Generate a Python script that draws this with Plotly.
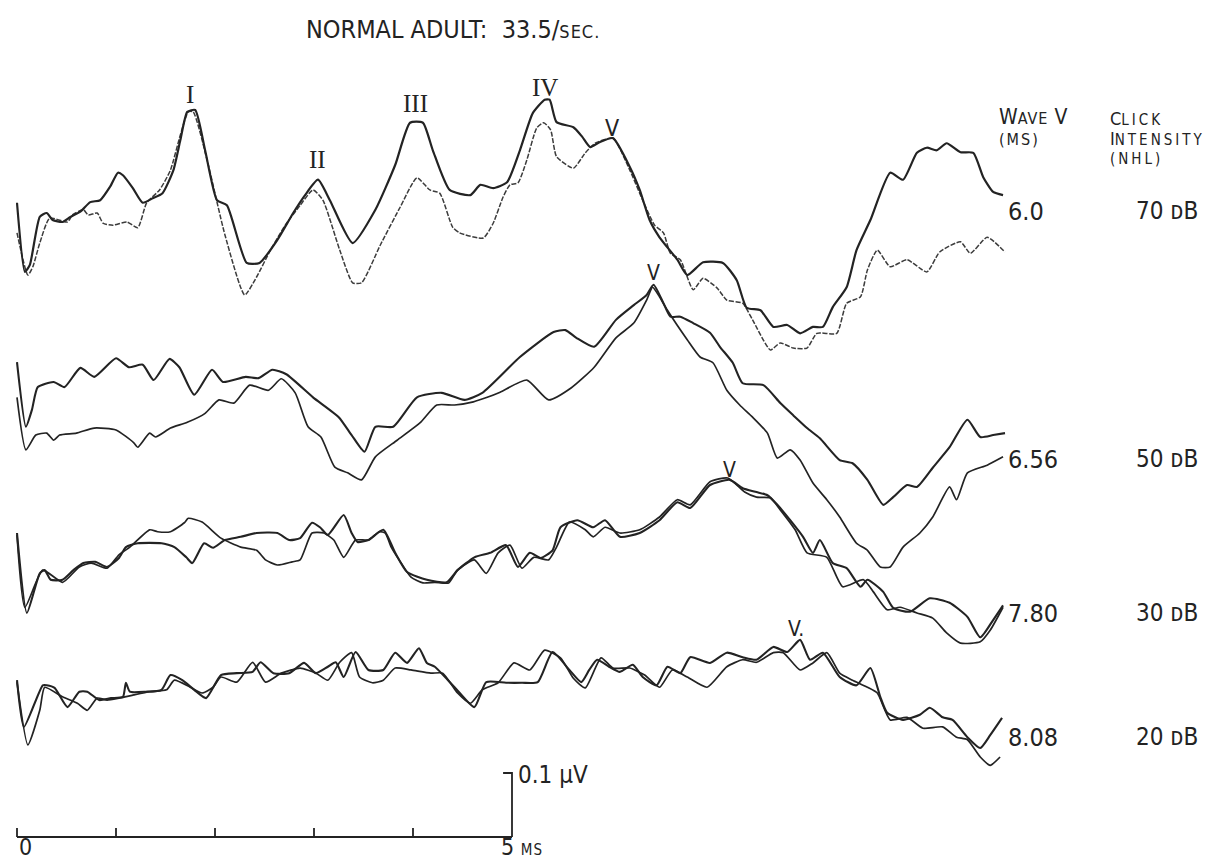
import plotly.graph_objects as go

# ---------------- data (time in ms, amplitude in nV; 100 nV = 0.1 uV) ----------------
W70_A = [(0.00,-9),(0.08,-117),(0.13,-106),(0.23,-31),(0.30,-25),(0.36,-36),(0.46,-39),(0.54,-31),(0.64,-23),(0.74,-8),(0.84,-5),(0.94,16),(1.02,38),(1.07,34),(1.17,14),(1.27,-9),(1.37,-2),(1.47,6),(1.58,42),(1.65,89),(1.72,133),(1.80,136),(1.90,73),(2.02,-5),(2.12,-13),(2.32,-103),(2.45,-103),(2.63,-67),(2.79,-25),(2.91,3),(3.04,27),(3.16,-5),(3.39,-72),(3.62,-20),(3.82,50),(3.97,116),(4.10,116),(4.20,73),(4.37,11),(4.58,3),(4.68,19),(4.81,14),(4.95,23),(5.08,73),(5.21,131),(5.33,152),(5.38,152),(5.45,117),(5.62,109),(5.71,94),(5.79,78),(5.89,86),(6.02,92),(6.19,47),(6.29,11),(6.39,-36),(6.49,-63),(6.67,-98),(6.77,-122),(6.93,-102),(7.13,-103),(7.27,-130),(7.37,-173),(7.51,-177),(7.64,-203),(7.78,-200),(7.91,-213),(8.04,-203),(8.14,-203),(8.24,-172),(8.38,-141),(8.48,-83),(8.62,-36),(8.82,38),(8.95,27),(9.09,69),(9.19,77),(9.29,73),(9.39,84),(9.53,70),(9.66,69),(9.76,31),(9.86,8),(9.96,3)]
W70_B = [(0.00,-56),(0.11,-122),(0.16,-109),(0.23,-72),(0.33,-33),(0.51,-39),(0.56,-28),(0.67,-20),(0.72,-28),(0.81,-25),(0.87,-41),(0.97,-44),(1.11,-39),(1.22,-48),(1.31,-9),(1.44,11),(1.55,42),(1.65,97),(1.73,133),(1.78,133),(1.92,58),(2.10,-59),(2.30,-153),(2.42,-125),(2.56,-83),(2.71,-44),(2.86,-13),(2.99,11),(3.09,-5),(3.26,-83),(3.39,-134),(3.48,-134),(3.67,-75),(3.87,-16),(4.04,30),(4.17,11),(4.27,6),(4.40,-47),(4.47,-56),(4.71,-64),(4.81,-41),(4.91,0),(4.98,19),(5.06,22),(5.15,58),(5.25,108),(5.32,116),(5.39,105),(5.45,63),(5.62,45),(5.74,69),(5.84,84),(6.02,92),(6.19,42),(6.32,-5),(6.44,-44),(6.53,-56),(6.60,-88),(6.70,-98),(6.83,-145),(6.93,-127),(7.07,-142),(7.17,-161),(7.33,-166),(7.43,-192),(7.61,-239),(7.71,-228),(7.84,-236),(7.98,-236),(8.08,-213),(8.28,-213),(8.38,-166),(8.52,-156),(8.59,-114),(8.69,-83),(8.82,-109),(8.99,-98),(9.19,-117),(9.32,-86),(9.53,-70),(9.63,-88),(9.80,-63),(9.98,-86)]
W50_A = [(0.00,17),(0.09,-84),(0.15,-58),(0.21,-22),(0.37,-14),(0.48,-22),(0.64,8),(0.78,-6),(1.00,23),(1.13,9),(1.27,13),(1.38,-11),(1.54,22),(1.64,9),(1.79,-34),(1.97,5),(2.08,-14),(2.31,-6),(2.44,-8),(2.58,5),(2.72,-2),(2.99,-38),(3.25,-69),(3.38,-97),(3.51,-123),(3.62,-84),(3.80,-84),(4.04,-38),(4.29,-31),(4.52,-42),(4.70,-31),(5.08,25),(5.42,64),(5.54,67),(5.65,55),(5.83,41),(6.05,83),(6.23,106),(6.36,122),(6.43,138),(6.53,109),(6.60,88),(6.70,88),(6.83,78),(7.00,63),(7.10,41),(7.23,16),(7.33,-16),(7.54,-19),(7.71,-47),(7.84,-66),(7.98,-86),(8.11,-102),(8.31,-136),(8.44,-141),(8.59,-167),(8.75,-206),(8.85,-194),(8.99,-175),(9.09,-178),(9.25,-148),(9.42,-116),(9.60,-73),(9.73,-100),(9.86,-97),(9.98,-94)]
W50_B = [(0.00,-38),(0.09,-120),(0.19,-97),(0.30,-94),(0.37,-105),(0.43,-97),(0.60,-94),(0.78,-86),(1.00,-89),(1.18,-109),(1.22,-116),(1.34,-94),(1.40,-100),(1.55,-86),(1.72,-77),(1.90,-63),(2.04,-42),(2.19,-47),(2.35,-19),(2.54,-27),(2.67,-9),(2.81,-31),(2.94,-84),(3.07,-100),(3.21,-147),(3.34,-156),(3.48,-167),(3.62,-131),(3.84,-105),(4.07,-78),(4.24,-50),(4.42,-50),(4.61,-45),(4.75,-38),(4.88,-30),(5.15,-11),(5.37,-42),(5.60,-23),(5.83,9),(6.05,55),(6.23,78),(6.36,114),(6.42,134),(6.49,119),(6.57,98),(6.77,52),(6.90,25),(7.03,16),(7.17,-27),(7.30,-50),(7.43,-69),(7.58,-94),(7.68,-133),(7.81,-120),(7.91,-136),(8.04,-172),(8.18,-198),(8.31,-225),(8.48,-266),(8.59,-277),(8.72,-303),(8.82,-303),(8.95,-272),(9.12,-250),(9.25,-225),(9.42,-178),(9.49,-198),(9.60,-156),(9.80,-144),(9.96,-131)]
W30_A = [(0.00,25),(0.10,-100),(0.23,-38),(0.28,-33),(0.34,-48),(0.46,-48),(0.57,-33),(0.67,-22),(0.79,-20),(0.91,-28),(1.03,-14),(1.10,3),(1.22,9),(1.46,9),(1.59,3),(1.71,-13),(1.77,-22),(1.89,9),(1.98,2),(2.10,14),(2.26,19),(2.42,25),(2.63,25),(2.75,14),(2.86,17),(2.98,41),(3.06,34),(3.14,22),(3.30,53),(3.38,25),(3.44,11),(3.55,14),(3.70,30),(3.82,-6),(3.94,-36),(4.14,-48),(4.34,-52),(4.45,-33),(4.62,-13),(4.78,-6),(4.94,6),(5.06,-28),(5.18,-6),(5.29,-14),(5.41,-2),(5.49,34),(5.66,45),(5.82,34),(5.94,45),(6.09,19),(6.29,25),(6.49,45),(6.67,73),(6.80,64),(7.00,100),(7.20,108),(7.33,95),(7.47,89),(7.58,84),(7.68,69),(7.81,45),(7.94,19),(8.04,-6),(8.11,14),(8.24,-22),(8.38,-30),(8.52,-59),(8.59,-48),(8.75,-67),(8.85,-92),(9.02,-98),(9.22,-77),(9.42,-84),(9.60,-106),(9.73,-138),(9.86,-111),(9.96,-88)]
W30_B = [(0.00,22),(0.08,-91),(0.26,-33),(0.46,-52),(0.63,-28),(0.75,-22),(0.91,-30),(1.03,-9),(1.14,3),(1.34,30),(1.42,27),(1.55,27),(1.69,41),(1.73,48),(1.87,42),(2.06,17),(2.26,3),(2.42,-2),(2.51,-17),(2.63,-25),(2.78,-20),(2.86,-17),(2.98,25),(3.10,25),(3.20,14),(3.30,-13),(3.42,14),(3.55,14),(3.66,27),(3.72,25),(3.78,3),(3.86,-17),(3.98,-44),(4.10,-53),(4.22,-52),(4.36,-53),(4.45,-33),(4.62,-17),(4.74,-38),(4.86,-6),(4.98,6),(5.10,-30),(5.22,-13),(5.37,-17),(5.45,3),(5.58,42),(5.74,30),(5.82,19),(5.94,34),(6.09,25),(6.29,30),(6.49,50),(6.67,77),(6.80,69),(7.00,105),(7.18,111),(7.35,89),(7.47,81),(7.61,80),(7.71,61),(7.86,30),(7.98,-6),(8.18,-13),(8.34,-59),(8.55,-48),(8.65,-67),(8.79,-95),(8.92,-91),(9.09,-100),(9.25,-108),(9.39,-131),(9.53,-147),(9.73,-145),(9.83,-127),(9.96,-91)]
W20_A = [(0.00,-5),(0.07,-78),(0.26,-13),(0.30,-13),(0.38,-17),(0.51,-47),(0.63,-23),(0.71,-23),(0.83,-36),(0.95,-33),(1.07,-31),(1.10,-9),(1.14,-23),(1.30,-23),(1.46,-20),(1.55,3),(1.67,-5),(1.79,-20),(1.91,-33),(2.06,3),(2.22,6),(2.38,8),(2.46,23),(2.59,6),(2.75,6),(2.90,22),(3.02,6),(3.14,16),(3.22,23),(3.30,0),(3.42,39),(3.55,11),(3.70,11),(3.82,38),(3.94,22),(4.06,45),(4.14,22),(4.22,16),(4.42,-16),(4.62,-47),(4.74,-8),(4.94,-9),(5.10,-9),(5.26,-8),(5.41,39),(5.58,11),(5.70,-8),(5.78,11),(5.86,27),(5.98,16),(6.09,8),(6.22,19),(6.32,0),(6.46,-13),(6.57,16),(6.70,6),(6.80,31),(7.00,22),(7.17,38),(7.33,31),(7.47,27),(7.64,47),(7.78,39),(7.91,58),(8.01,27),(8.14,38),(8.31,0),(8.48,-13),(8.62,14),(8.72,-31),(8.79,-56),(8.95,-67),(9.12,-59),(9.22,-48),(9.35,-63),(9.45,-67),(9.60,-94),(9.73,-111),(9.83,-91),(9.95,-64)]
W20_B = [(0.00,-8),(0.11,-106),(0.23,-52),(0.28,-16),(0.46,-31),(0.61,-41),(0.71,-52),(0.81,-33),(0.91,-36),(1.03,-33),(1.18,-28),(1.34,-23),(1.51,-20),(1.59,-5),(1.75,-16),(1.87,-25),(1.98,-16),(2.06,0),(2.22,-8),(2.38,23),(2.51,-8),(2.67,6),(2.86,14),(3.02,6),(3.14,-5),(3.26,23),(3.38,38),(3.46,0),(3.59,-9),(3.70,-5),(3.82,14),(3.98,11),(4.18,6),(4.30,6),(4.45,-25),(4.58,-41),(4.70,-20),(4.86,-9),(5.02,22),(5.18,11),(5.33,42),(5.49,30),(5.62,-2),(5.74,-17),(5.90,30),(6.02,14),(6.19,14),(6.34,3),(6.49,-16),(6.62,11),(6.77,0),(6.97,-16),(7.17,16),(7.33,27),(7.47,23),(7.64,38),(7.74,38),(7.91,11),(8.04,22),(8.18,38),(8.31,6),(8.44,-5),(8.59,-16),(8.69,-25),(8.82,-67),(8.99,-63),(9.15,-80),(9.35,-78),(9.49,-94),(9.60,-98),(9.73,-125),(9.83,-138),(9.93,-125)]

INTENSITIES = ["70 ᴅB", "50 ᴅB", "30 ᴅB", "20 ᴅB"]
WAVE_V_LATENCY = ["6.0", "6.56", "7.80", "8.08"]
PEAK_NAMES_70 = ["I", "II", "III", "IV", "V"]
PEAK_MS_70 = [1.75, 3.04, 4.03, 5.33, 6.01]
WAVE_V_MS_LOWER = [6.43, 7.20, 7.87]      # 50, 30, 20 dB wave V marks
SCALE_MS = [0, 1, 2, 3, 4, 5]
SCALE_NV = 100                             # 0.1 uV calibration

# ---------------- layout helpers ----------------
W, H = 1224, 859
X0PX, PXPMS = 17, 99.0          # pixel of t=0, pixels per ms
Y0PX, PXPNV = 837, 0.64         # pixel of amplitude 0 (scale bar), pixels per nV
OFFSETS = [1000, 725, 450, 250]  # vertical stacking of the four records (nV)

def px_x(px):
    return (px - X0PX) / PXPMS

def px_y(py):
    return (Y0PX - py) / PXPNV

INK = "#232323"
FONT = "DejaVu Sans Condensed, DejaVu Sans, sans-serif"
SERIF = "Liberation Serif, DejaVu Serif, serif"

fig = go.Figure()

def add_wave(pairs, off, width, color=INK, dash="solid"):
    fig.add_trace(go.Scatter(
        x=[p[0] for p in pairs], y=[p[1] + off for p in pairs],
        mode="lines", hoverinfo="skip", showlegend=False,
        line=dict(color=color, width=width, dash=dash, shape="spline", smoothing=0.55)))

records = [(W70_A, W70_B), (W50_A, W50_B), (W30_A, W30_B), (W20_A, W20_B)]
for i, (a, b) in enumerate(records):
    if i == 0:
        add_wave(b, OFFSETS[i], 1.5, "#3c3c3c", "5px,1.6px")
        add_wave(a, OFFSETS[i], 2.2)
    else:
        add_wave(b, OFFSETS[i], 1.7)
        add_wave(a, OFFSETS[i], 2.1)

# ---------------- calibration bar ----------------
tick_h = 14
sx, sy = [SCALE_MS[0], SCALE_MS[-1]], [0, 0]
for t in SCALE_MS[:-1]:
    sx += [None, t, t]
    sy += [None, 0, tick_h]
sx += [None, SCALE_MS[-1], SCALE_MS[-1], SCALE_MS[-1] - 0.09]
sy += [None, 0, SCALE_NV, SCALE_NV]
fig.add_trace(go.Scatter(x=sx, y=sy, mode="lines", hoverinfo="skip", showlegend=False,
                         line=dict(color=INK, width=1.8)))

# ---------------- text ----------------
ann = []
def text(px, py, s, size=20, family=FONT, xanchor="left"):
    ann.append(dict(x=px / W, y=1 - py / H, xref="paper", yref="paper", text=s,
                    showarrow=False, xanchor=xanchor, yanchor="middle", align="left",
                    font=dict(family=family, size=size, color=INK)))

def small(s, size=16, ls=0):
    return "<span style='font-size:%dpx;letter-spacing:%dpx'>%s</span>" % (size, ls, s)

def big(s, size=21):
    return "<span style='font-size:%dpx'>%s</span>" % (size, s)

text(304, 29, "NORMAL ADULT:\u00a0\u00a033.5/" + small("SEC.", 18, 1), size=25)

text(997, 127, big("W") + small("AVE", 16, 1) + big(" V") + "<br>" + small("(MS)", 16, 2), size=16)
text(1108, 138, big("C", 18) + small("LICK", 15, 3) + "<br>" + big("I", 18) + small("NTENSITY", 15, 3)
     + "<br>" + small("(NHL)", 15, 3), size=15)

ROW_PY = [211, 459, 613, 737]
for lat, inten, py in zip(WAVE_V_LATENCY, INTENSITIES, ROW_PY):
    text(1006, py, lat, size=25)
    text(1134, py, inten, size=24)

# peak labels (x from latency in ms)
PEAK_PY_70 = [94, 160, 104, 87, 128]
for name, ms, py in zip(PEAK_NAMES_70, PEAK_MS_70, PEAK_PY_70):
    fam = SERIF if name != "V" else FONT
    ann.append(dict(x=ms, y=1 - py / H, xref="x", yref="paper", text=name, showarrow=False,
                    xanchor="center", yanchor="middle",
                    font=dict(family=fam, size=25 if name != "V" else 23, color=INK)))
for ms, py, s in zip(WAVE_V_MS_LOWER, [273, 470, 629], ["V", "V", "V."]):
    ann.append(dict(x=ms, y=1 - py / H, xref="x", yref="paper", text=s, showarrow=False,
                    xanchor="center", yanchor="middle",
                    font=dict(family=FONT, size=21, color=INK)))

# scale labels
text(516, 775, "0.1 µV", size=24)
ann.append(dict(x=SCALE_MS[0] + 0.09, y=1 - 847 / H, xref="x", yref="paper", text="0",
                showarrow=False, xanchor="center", yanchor="middle",
                font=dict(family=FONT, size=23, color=INK)))
ann.append(dict(x=SCALE_MS[-1] - 0.13, y=1 - 847 / H, xref="x", yref="paper",
                text="5 " + small("MS", 15, 1), showarrow=False, xanchor="left", yanchor="middle",
                font=dict(family=FONT, size=23, color=INK)))

fig.update_layout(
    width=W, height=H, margin=dict(l=0, r=0, t=0, b=0),
    paper_bgcolor="white", plot_bgcolor="white", showlegend=False,
    xaxis=dict(range=[px_x(0), px_x(W)], visible=False, fixedrange=True),
    yaxis=dict(range=[px_y(H), px_y(0)], visible=False, fixedrange=True),
    annotations=ann,
)
fig.write_html("out.html", config={"displayModeBar": False},
               post_script="document.body.style.margin='0px';document.body.style.overflow='hidden';")
